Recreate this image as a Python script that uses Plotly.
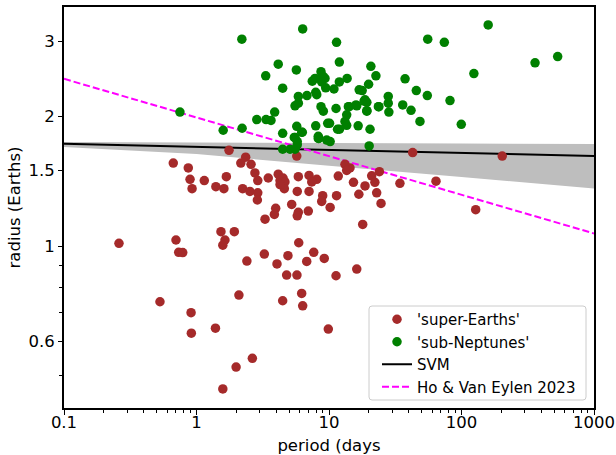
import plotly.graph_objects as go

# ---- data ----
se_period = [0.26, 0.668, 0.867, 0.894, 0.926, 1.145, 1.40, 1.61, 1.68, 1.76,
             2.16, 2.35, 2.58, 2.76, 2.90, 2.23, 2.53, 2.90, 2.88, 3.48,
             4.14, 4.27, 4.50, 4.65, 4.60, 5.87, 7.07, 8.08, 7.41, 7.07,
             5.76, 8.96, 8.81, 10.2, 5.23, 3.96, 3.87, 3.29, 5.87, 5.76,
             6.98, 1.53, 1.93, 0.70, 0.734, 0.787, 1.64, 1.58, 2.40, 3.25,
             4.05, 4.90, 5.91, 6.79, 7.67, 9.21, 4.79, 5.73, 6.22, 6.33,
             4.47, 2.09, 0.53, 0.91, 0.914, 1.39, 2.64, 1.99, 1.58, 9.88,
             11.3, 16.2, 17.96, 11.4, 11.75, 13.2, 14.4, 13.6, 24.0, 21.0,
             22.2, 18.7, 15.3, 34.3, 64.2, 16.8, 22.9, 24.7, 42.8, 203,
             128, 5.71, 4.27]
se_radius = [1.015, 1.56, 1.52, 1.43, 1.36, 1.42, 1.375, 1.36, 1.45, 1.67,
             1.56, 1.61, 1.55, 1.48, 1.42, 1.36, 1.34, 1.33, 1.28, 1.44,
             1.47, 1.42, 1.44, 1.41, 1.36, 1.45, 1.46, 1.43, 1.41, 1.34,
             1.34, 1.31, 1.27, 1.23, 1.25, 1.224, 1.185, 1.155, 1.198, 1.176,
             1.206, 1.08, 1.08, 1.033, 0.967, 0.966, 1.033, 1.005, 0.923, 0.958,
             0.909, 0.95, 1.018, 0.921, 0.967, 0.936, 0.856, 0.856, 0.776, 0.726,
             0.746, 0.769, 0.742, 0.70, 0.627, 0.644, 0.548, 0.523, 0.465, 0.641,
             0.853, 0.884, 1.123, 1.31, 1.455, 1.55, 1.52, 1.50, 1.49, 1.457,
             1.407, 1.38, 1.407, 1.40, 1.416, 1.32, 1.33, 1.257, 1.65, 1.62,
             1.215, 1.62, 1.39]

sn_period = [0.75, 2.20, 6.33, 1.59, 2.21, 4.14, 3.33, 5.67, 4.47, 2.85,
             3.35, 3.65, 3.89, 5.87, 5.87, 5.54, 6.82, 7.94, 8.08, 7.84,
             8.55, 9.33, 8.70, 8.81, 9.44, 8.70, 9.06, 11.3, 11.4, 11.97,
             11.97, 4.47, 5.71, 5.47, 6.29, 7.94, 8.30, 8.40, 9.78, 10.2,
             11.6, 4.47, 5.08, 5.76, 20.7, 22.6, 55.6, 74.2, 37.5, 45.6,
             55.2, 81.9, 99.6, 19.9, 16.9, 17.8, 13.7, 10.9, 28.0, 28.0,
             28.3, 36.0, 41.6, 48.6, 23.6, 19.3, 19.3, 16.0, 18.7, 14.0,
             13.6, 13.2, 16.6, 20.4, 159, 124, 359, 532, 10.1, 12.0,
             20.1, 5.54, 5.76, 6.22, 8.30, 9.61, 9.06, 18.4, 16.2, 14.2,
             19.3, 23.8, 13.6, 7.48, 5.54]
sn_radius = [2.05, 3.03, 3.20, 1.86, 1.88, 2.65, 2.49, 2.57, 2.33, 1.97,
             1.97, 1.96, 2.05, 2.23, 2.15, 2.12, 2.24, 2.28, 2.25, 2.455,
             2.455, 2.455, 2.545, 2.41, 2.335, 2.11, 2.06, 2.09, 2.98, 2.68,
             2.41, 1.83, 1.90, 1.79, 1.84, 1.905, 1.80, 1.78, 1.93, 1.75,
             1.87, 1.68, 1.68, 1.72, 2.62, 2.49, 3.03, 2.98, 2.45, 2.30,
             2.24, 2.18, 1.92, 2.38, 2.31, 2.30, 2.455, 2.32, 2.23, 2.15,
             2.05, 2.13, 2.07, 1.95, 2.11, 2.16, 2.06, 2.13, 2.19, 2.11,
             2.02, 1.95, 1.905, 1.87, 3.27, 2.52, 2.67, 2.76, 1.93, 1.87,
             1.71, 1.79, 1.75, 1.84, 1.78, 1.765, 2.48, 2.175, 2.12, 2.11,
             2.065, 2.11, 1.91, 2.42, 1.68]

line_period = [0.1, 1000]
svm_radius = [1.73, 1.62]
ho_radius = [2.45, 1.07]

band_period = [0.1, 1, 10, 100, 1000]
band_upper = [1.746, 1.742, 1.737, 1.732, 1.727]
band_lower = [1.700, 1.637, 1.538, 1.447, 1.362]

xtick_vals = [0.1, 1, 10, 100, 1000]
xtick_text = ["0.1", "1", "10", "100", "1000"]
ytick_vals = [0.6, 1, 1.5, 2, 3]
ytick_text = ["0.6", "1", "1.5", "2", "3"]

FONT = "DejaVu Sans"
W, H = 616, 455
ML, MR, MT, MB = 64, 22, 7, 47
PW, PH = W - ML - MR, H - MT - MB


def px2paper(px, py):
    return (px - ML) / PW, (H - MB - py) / PH


fig = go.Figure()

# uncertainty band
fig.add_trace(go.Scatter(
    x=band_period + band_period[::-1],
    y=band_upper + band_lower[::-1],
    fill="toself", fillcolor="#bebebe", mode="none",
    line=dict(width=0), showlegend=False, hoverinfo="skip"))

fig.add_trace(go.Scatter(
    x=line_period, y=svm_radius, mode="lines", name="SVM",
    line=dict(color="black", width=2), legendrank=3))
fig.add_trace(go.Scatter(
    x=line_period, y=ho_radius, mode="lines", name="Ho & Van Eylen 2023",
    line=dict(color="#ff00ff", width=2, dash="7px,3px"), legendrank=4))

fig.add_trace(go.Scatter(
    x=se_period, y=se_radius, mode="markers", name="'super-Earths'",
    marker=dict(color="#a52a2a", size=9.5, line=dict(width=0)), legendrank=1))
fig.add_trace(go.Scatter(
    x=sn_period, y=sn_radius, mode="markers", name="'sub-Neptunes'",
    marker=dict(color="#008000", size=9.5, line=dict(width=0)), legendrank=2))

x_minor = [m * 10 ** e for e in (-1, 0, 1, 2) for m in range(2, 10)]
y_minor = [0.5, 0.7, 0.8, 0.9]

# legend frame (rounded, light grey) drawn as a shape
x0, y0 = px2paper(369, 400)
x1, y1 = px2paper(586, 306)
rx, ry = 3 / PW, 3 / PH
path = (f"M {x0+rx},{y0} L {x1-rx},{y0} Q {x1},{y0} {x1},{y0+ry} "
        f"L {x1},{y1-ry} Q {x1},{y1} {x1-rx},{y1} L {x0+rx},{y1} "
        f"Q {x0},{y1} {x0},{y1-ry} L {x0},{y0+ry} Q {x0},{y0} {x0+rx},{y0} Z")
fig.add_shape(type="path", path=path, xref="paper", yref="paper",
              line=dict(color="#cccccc", width=1),
              fillcolor="rgba(255,255,255,0.85)", layer="above")

lx, ly = px2paper(377, 403)

fig.update_layout(
    width=W, height=H,
    margin=dict(l=ML, r=MR, t=MT, b=MB),
    paper_bgcolor="white", plot_bgcolor="white",
    font=dict(family=FONT, size=16.5, color="black"),
    showlegend=True,
    legend=dict(
        x=lx, y=ly, xanchor="left", yanchor="bottom",
        bgcolor="rgba(0,0,0,0)", borderwidth=0,
        font=dict(family=FONT, size=15, color="black"),
        tracegroupgap=0),
    xaxis=dict(
        type="log", range=[-1, 3], automargin=False,
        tickmode="array", tickvals=xtick_vals, ticktext=xtick_text,
        ticks="outside", ticklen=5, tickwidth=1, tickcolor="black",
        ticklabelstandoff=-7,
        showline=True, linecolor="black", linewidth=2, mirror=True,
        showgrid=False, zeroline=False,
        tickfont=dict(family=FONT, size=16.5, color="black"),
        title=dict(text="period (days", font=dict(family=FONT, size=16.5), standoff=11),
        minor=dict(tickmode="array", tickvals=x_minor, ticks="outside",
                   ticklen=3, tickwidth=1, tickcolor="black", showgrid=False)),
    yaxis=dict(
        type="log", range=[-0.3768, 0.5563], automargin=False,
        tickmode="array", tickvals=ytick_vals, ticktext=ytick_text,
        ticks="outside", ticklen=4, tickwidth=1, tickcolor="black",
        showline=True, linecolor="black", linewidth=2, mirror=True,
        showgrid=False, zeroline=False,
        tickfont=dict(family=FONT, size=16.5, color="black"),
        title=dict(text="radius (Earths)", font=dict(family=FONT, size=16.5), standoff=4),
        minor=dict(tickmode="array", tickvals=y_minor, ticks="outside",
                   ticklen=3, tickwidth=1, tickcolor="black", showgrid=False)),
)

fig.write_html("out.html")
